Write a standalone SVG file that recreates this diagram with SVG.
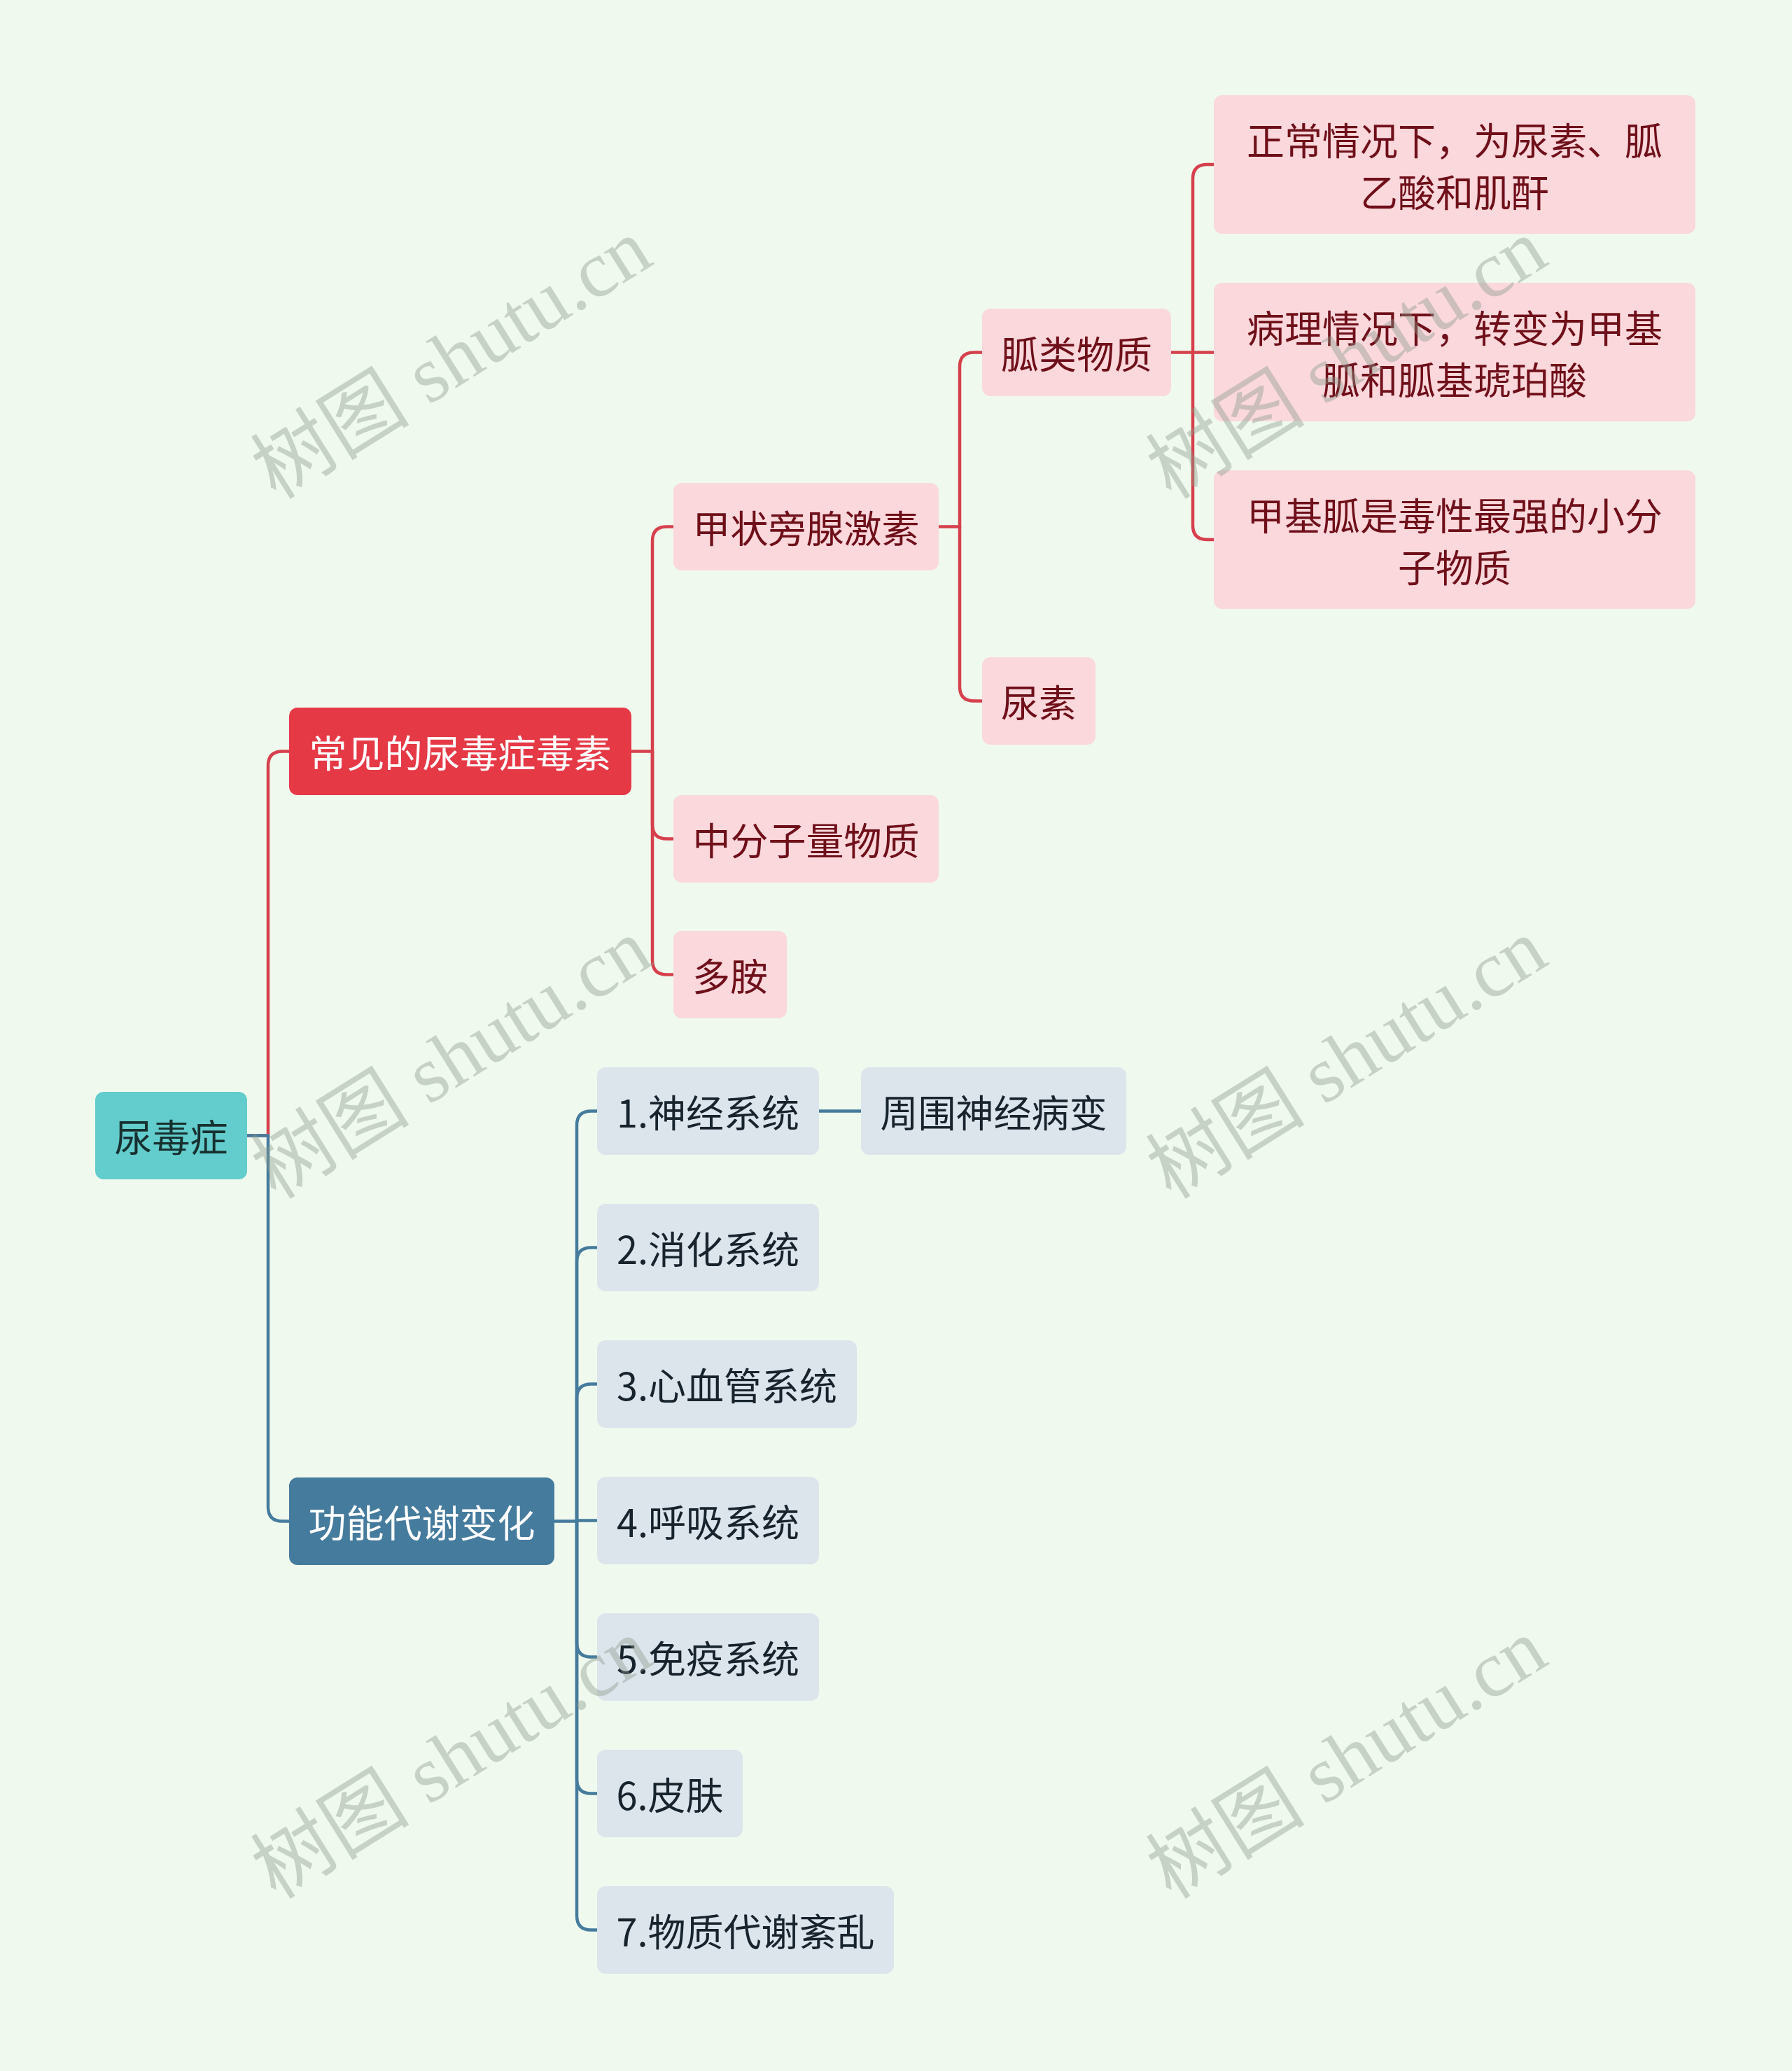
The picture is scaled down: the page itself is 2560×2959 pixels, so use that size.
<svg xmlns="http://www.w3.org/2000/svg" width="2560" height="2959" viewBox="0 0 2560 2959">
<style>
text{font-family:"Noto Sans CJK SC","Noto Sans",sans-serif;font-size:54px;text-anchor:middle;dominant-baseline:central}
.root rect{fill:#63cccc}.root text{fill:#17302f}
.red rect{fill:#e63946}.blue rect{fill:#457b9d}.red text,.blue text{fill:#ffffff}
.pink rect{fill:#fad8dc}.pink text{fill:#6f0f19}
.gray rect{fill:#dce4ec}.gray text{fill:#17232d}
.cr{fill:none;stroke:#d6404c;stroke-width:4.5}
.cb{fill:none;stroke:#457b9d;stroke-width:4.5}
.wm{font-family:"Liberation Serif","Noto Sans CJK SC",serif;font-size:114px;fill:#8a9a8a;opacity:0.4}
</style>
<rect width="2560" height="2959" fill="#f0f9ee"/>
<g id="connectors">
<path class="cr" d="M353,1622.5 H383 V1094 Q383,1073.5 403.5,1073.5 H413"/>
<path class="cb" d="M353,1622.5 H383 V2153 Q383,2173.5 403.5,2173.5 H413"/>
<path class="cr" d="M902,1073.5 H932 V773 Q932,752.5 952.5,752.5 H962"/>
<path class="cr" d="M932,1073.5 V1178 Q932,1198.5 952.5,1198.5 H962"/>
<path class="cr" d="M932,1073.5 V1372 Q932,1392.5 952.5,1392.5 H962"/>
<path class="cr" d="M1341,752.5 H1371 V524 Q1371,503.5 1391.5,503.5 H1403"/>
<path class="cr" d="M1371,752.5 V981 Q1371,1001.5 1391.5,1001.5 H1403"/>
<path class="cr" d="M1673,503.5 H1734"/>
<path class="cr" d="M1704,503.5 V255.5 Q1704,235 1724.5,235 H1734"/>
<path class="cr" d="M1704,503.5 V750.5 Q1704,771 1724.5,771 H1734"/>
<path class="cb" d="M792,2173.5 H824 V1608 Q824,1587.5 844.5,1587.5 H853"/>
<path class="cb" d="M824,2173.5 V1803 Q824,1782.5 844.5,1782.5 H853"/>
<path class="cb" d="M824,2173.5 V1998 Q824,1977.5 844.5,1977.5 H853"/>
<path class="cb" d="M824,2172.5 H853"/>
<path class="cb" d="M824,2173.5 V2347 Q824,2367.5 844.5,2367.5 H853"/>
<path class="cb" d="M824,2173.5 V2542 Q824,2562.5 844.5,2562.5 H853"/>
<path class="cb" d="M824,2173.5 V2737 Q824,2757.5 844.5,2757.5 H853"/>
<path class="cb" d="M1170,1587.5 H1230"/>
</g>
<g id="root" class="root"><rect x="136" y="1560" width="217" height="125" rx="12"/><text x="244.5" y="1622.5">尿毒症</text></g>
<g id="toxins" class="red"><rect x="413" y="1011" width="489" height="125" rx="12"/><text x="657.5" y="1073.5">常见的尿毒症毒素</text></g>
<g id="function" class="blue"><rect x="413" y="2111" width="379" height="125" rx="12"/><text x="602.5" y="2173.5">功能代谢变化</text></g>
<g id="pth" class="pink"><rect x="962" y="690" width="379" height="125" rx="12"/><text x="1151.5" y="752.5">甲状旁腺激素</text></g>
<g id="middle" class="pink"><rect x="962" y="1136" width="379" height="125" rx="12"/><text x="1151.5" y="1198.5">中分子量物质</text></g>
<g id="polyamine" class="pink"><rect x="962" y="1330" width="162" height="125" rx="12"/><text x="1043" y="1392.5">多胺</text></g>
<g id="guanidine" class="pink"><rect x="1403" y="441" width="270" height="125" rx="12"/><text x="1538" y="503.5">胍类物质</text></g>
<g id="urea" class="pink"><rect x="1403" y="939" width="162" height="125" rx="12"/><text x="1484" y="1001.5">尿素</text></g>
<g id="normal" class="pink"><rect x="1734" y="136" width="688" height="198" rx="12"/><text x="2078" y="198">正常情况下，为尿素、胍</text><text x="2078" y="272">乙酸和肌酐</text></g>
<g id="pathology" class="pink"><rect x="1734" y="404" width="688" height="198" rx="12"/><text x="2078" y="466">病理情况下，转变为甲基</text><text x="2078" y="540">胍和胍基琥珀酸</text></g>
<g id="methylguanidine" class="pink"><rect x="1734" y="672" width="688" height="198" rx="12"/><text x="2078" y="734">甲基胍是毒性最强的小分</text><text x="2078" y="808">子物质</text></g>
<g id="s1" class="gray"><rect x="853" y="1525" width="317" height="125" rx="12"/><text x="1011.5" y="1587.5">1.神经系统</text></g>
<g id="s1a" class="gray"><rect x="1230" y="1525" width="379" height="125" rx="12"/><text x="1419.5" y="1587.5">周围神经病变</text></g>
<g id="s2" class="gray"><rect x="853" y="1720" width="317" height="125" rx="12"/><text x="1011.5" y="1782.5">2.消化系统</text></g>
<g id="s3" class="gray"><rect x="853" y="1915" width="371" height="125" rx="12"/><text x="1038.5" y="1977.5">3.心血管系统</text></g>
<g id="s4" class="gray"><rect x="853" y="2110" width="317" height="125" rx="12"/><text x="1011.5" y="2172.5">4.呼吸系统</text></g>
<g id="s5" class="gray"><rect x="853" y="2305" width="317" height="125" rx="12"/><text x="1011.5" y="2367.5">5.免疫系统</text></g>
<g id="s6" class="gray"><rect x="853" y="2500" width="208" height="125" rx="12"/><text x="957" y="2562.5">6.皮肤</text></g>
<g id="s7" class="gray"><rect x="853" y="2695" width="424" height="125" rx="12"/><text x="1065" y="2757.5">7.物质代谢紊乱</text></g>
<g id="watermarks">
<text class="wm" transform="translate(645,513) rotate(-32)">树图 shutu.cn</text>
<text class="wm" transform="translate(1924,513) rotate(-32)">树图 shutu.cn</text>
<text class="wm" transform="translate(645,1513) rotate(-32)">树图 shutu.cn</text>
<text class="wm" transform="translate(1924,1513) rotate(-32)">树图 shutu.cn</text>
<text class="wm" transform="translate(645,2513) rotate(-32)">树图 shutu.cn</text>
<text class="wm" transform="translate(1924,2513) rotate(-32)">树图 shutu.cn</text>
</g>
</svg>
